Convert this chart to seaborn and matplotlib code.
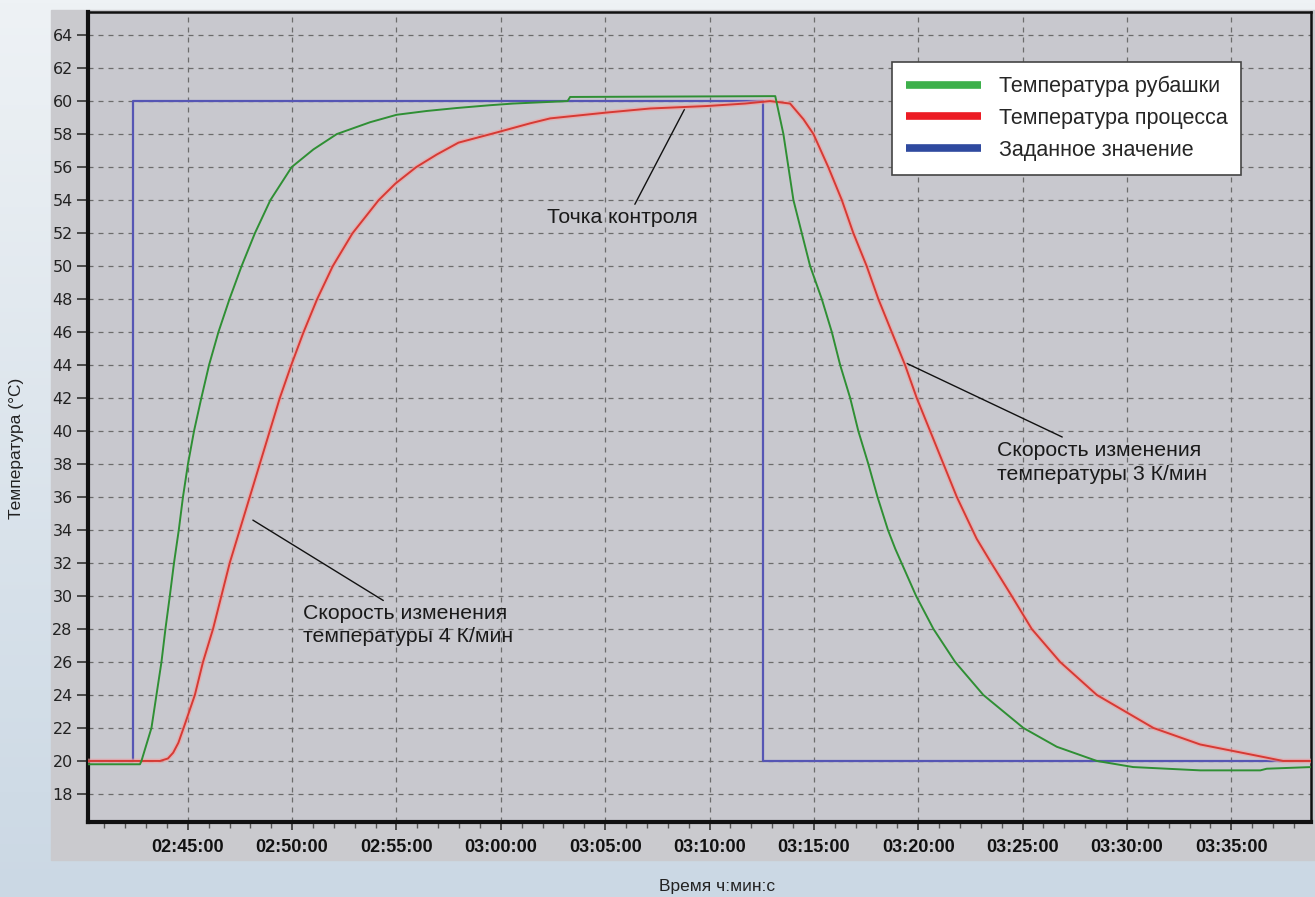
# ==========================================
# Temperature curves: jacket / process / setpoint
# ==========================================

import numpy as np
import pandas as pd
import matplotlib.pyplot as plt
import seaborn as sns
from matplotlib.lines import Line2D
from matplotlib.patches import Rectangle
from matplotlib.colors import LinearSegmentedColormap

# ------------------------------------------
# Data (time in minutes after 02:40:00)
# ------------------------------------------

jacket_t = [0.22, 2.71, 2.78, 3.26, 3.50, 3.74, 3.93, 4.14, 4.34, 4.57, 4.77, 5.01,
            5.30, 5.65, 6.02, 6.47, 7.00, 7.58, 8.22, 8.96, 9.98, 11.02, 12.14,
            13.74, 15.01, 16.45, 17.89, 19.49, 20.59, 23.2, 23.32, 33.15, 33.54,
            33.78, 34.02, 34.42, 34.82, 35.38, 35.86, 36.26, 36.74, 37.13, 37.61,
            38.05, 38.55, 38.90, 39.90, 40.73, 41.77, 43.12, 45.04, 46.64, 48.56,
            50.30, 53.51, 56.39, 56.70, 58.82]
jacket_v = [19.8, 19.8, 20.0, 22, 24, 26, 28, 30, 32, 34, 36, 38,
            40, 42, 44, 46, 48, 50, 52, 54, 56, 57.07, 58,
            58.72, 59.17, 59.4, 59.58, 59.75, 59.85, 60.0, 60.25, 60.3, 58,
            56, 54, 52, 50, 48, 46, 44, 42, 40, 38,
            36, 34, 32.86, 30, 28, 26, 24, 22, 20.86, 20.0,
            19.63, 19.43, 19.43, 19.53, 19.63]

process_t = [0.22, 3.67, 4.05, 4.30, 4.55, 4.80, 5.34, 5.73, 6.21, 6.61, 7.01, 7.49,
             7.97, 8.45, 8.93, 9.41, 9.96, 10.55, 11.20, 11.95, 12.90, 14.15, 14.95,
             15.95, 16.93, 17.97, 19.81, 21.40, 22.36, 25.03, 27.15, 29.87, 31.7,
             32.9, 33.86, 34.50, 34.98, 35.69, 36.34, 36.89, 37.53, 38.09, 38.73,
             39.37, 39.93, 40.57, 41.21, 41.85, 42.45, 42.80, 43.50, 44.48, 45.44,
             46.80, 48.56, 51.27, 53.51, 56.70, 57.48, 58.82]
process_v = [20.0, 20.0, 20.15, 20.5, 21.1, 22, 24, 26, 28, 30, 32, 34,
             36, 38, 40, 42, 44, 46, 48, 50, 52, 54, 55,
             56, 56.76, 57.48, 58.1, 58.65, 58.95, 59.3, 59.55, 59.7, 59.85,
             60.0, 59.85, 58.9, 58, 56, 54, 52, 50, 48, 46,
             44, 42, 40, 38, 36, 34.4, 33.47, 32, 30, 28,
             26, 24, 22, 21, 20.2, 20.0, 20.0]

setpoint_t = [0.22, 2.38, 32.55, 58.82]
setpoint_v = [20, 60, 20, 20]

x_ticks = [5, 10, 15, 20, 25, 30, 35, 40, 45, 50, 55]
x_labels = ["02:45:00", "02:50:00", "02:55:00", "03:00:00", "03:05:00", "03:10:00",
            "03:15:00", "03:20:00", "03:25:00", "03:30:00", "03:35:00"]
y_ticks = list(range(18, 66, 2))

series_names = ["Температура рубашки", "Температура процесса", "Заданное значение"]

jacket = pd.DataFrame({"t": jacket_t, "v": jacket_v})
process = pd.DataFrame({"t": process_t, "v": process_v})
setpoint = pd.DataFrame({"t": setpoint_t, "v": setpoint_v})

# ------------------------------------------
# Style
# ------------------------------------------

sns.set_style("ticks")
plt.rcParams["font.family"] = ["Liberation Sans", "DejaVu Sans"]

W, H = 1315, 897
fig = plt.figure(figsize=(W / 100, H / 100), dpi=100)

# background gradient + grey panel
bg = fig.add_axes([0, 0, 1, 1], zorder=-10)
grad = np.linspace(0, 1, 256).reshape(-1, 1)
bg_cmap = LinearSegmentedColormap.from_list("bg", ["#eef2f5", "#cbd8e4"])
bg.imshow(grad, aspect="auto", cmap=bg_cmap, extent=[0, W, H, 0])
bg.add_patch(Rectangle((51, 10), W - 51, 850, color="#cacace", zorder=2))
bg.set_xlim(0, W)
bg.set_ylim(H, 0)
bg.axis("off")

ax = fig.add_axes([88 / W, 1 - 822 / H, (1311 - 88) / W, (822 - 12) / H])
ax.set_facecolor("#c8c8ce")

# ------------------------------------------
# Lines
# ------------------------------------------

sns.lineplot(data=setpoint, x="t", y="v", ax=ax, color="#5656b4", lw=1.6,
             drawstyle="steps-post", zorder=3)
sns.lineplot(data=process, x="t", y="v", ax=ax, color="#f2a0a0", lw=3.4,
             alpha=0.6, zorder=4)
sns.lineplot(data=process, x="t", y="v", ax=ax, color="#d63a34", lw=1.4, zorder=5)
sns.lineplot(data=jacket, x="t", y="v", ax=ax, color="#2f8f34", lw=1.4, zorder=6)

# ------------------------------------------
# Axes
# ------------------------------------------

ax.set_xlim(0.22, 58.82)
ax.set_ylim(16.3, 65.4)
ax.set_xticks(x_ticks)
ax.set_xticklabels(x_labels, fontweight="bold", fontsize=13, color="#111111")
ax.set_xticks(range(1, 59), minor=True)
ax.set_yticks(y_ticks)
ax.set_yticklabels([str(v) for v in y_ticks], family="DejaVu Sans",
                   fontsize=11.5, color="#222222")
ax.tick_params(axis="x", which="major", length=6, width=1.2, pad=6, color="#333333")
ax.tick_params(axis="x", which="minor", length=4, width=1.0, color="#555555")
ax.tick_params(axis="y", length=8, width=1.2, pad=3, color="#333333")

ax.grid(True, which="major", linestyle=(0, (4, 4)), color="#6c6c6c", lw=0.9)
ax.set_axisbelow(True)

for side, lw in [("left", 3), ("bottom", 3), ("top", 1.8), ("right", 1.8)]:
    ax.spines[side].set_visible(True)
    ax.spines[side].set_linewidth(lw)
    ax.spines[side].set_color("#111111")

ax.set_xlabel("")
ax.set_ylabel("")
fig.text(17 / W, 1 - 448 / H, "Температура (°C)", rotation=90, ha="center",
         va="center", fontsize=12.5, color="#222222")
fig.text(717 / W, 1 - 886 / H, "Время ч:мин:с", ha="center", va="center",
         fontsize=12.5, color="#222222")

# ------------------------------------------
# Annotations
# ------------------------------------------

ann = dict(fontsize=15.3, color="#1a1a1a")
line = dict(arrowstyle="-", color="#111111", lw=1, shrinkA=0, shrinkB=0)
ax.annotate("Точка контроля", xy=(28.8, 59.5), xytext=(25.81, 52.97),
            ha="center", va="center",
            arrowprops=dict(line, relpos=(0.58, 1.1)), **ann)
ax.annotate("Скорость изменения\nтемпературы 4 К/мин", xy=(8.12, 34.6),
            xytext=(10.53, 28.24), ha="left", va="center", linespacing=1.3,
            arrowprops=dict(line, relpos=(0.4, 1.02)), **ann)
ax.annotate("Скорость изменения\nтемпературы 3 К/мин", xy=(39.45, 44.1),
            xytext=(43.78, 38.09), ha="left", va="center", linespacing=1.3,
            arrowprops=dict(line, relpos=(0.31, 1.1)), **ann)

# ------------------------------------------
# Legend
# ------------------------------------------

handles = [Line2D([], [], color=c, lw=5.5, solid_capstyle="butt")
           for c in ["#3db04b", "#ec1c24", "#2f4a9f"]]
leg = ax.legend(handles, series_names, loc="upper left",
                bbox_to_anchor=(0.6574, 0.9383), frameon=True, fancybox=False,
                framealpha=1, facecolor="white", edgecolor="#444444",
                fontsize=15.5, handlelength=3.5, handletextpad=0.8,
                labelspacing=0.5, borderpad=0.65, borderaxespad=0)
leg.get_frame().set_linewidth(1.2)
leg.set_zorder(10)

fig.savefig("out.png", dpi=100)
